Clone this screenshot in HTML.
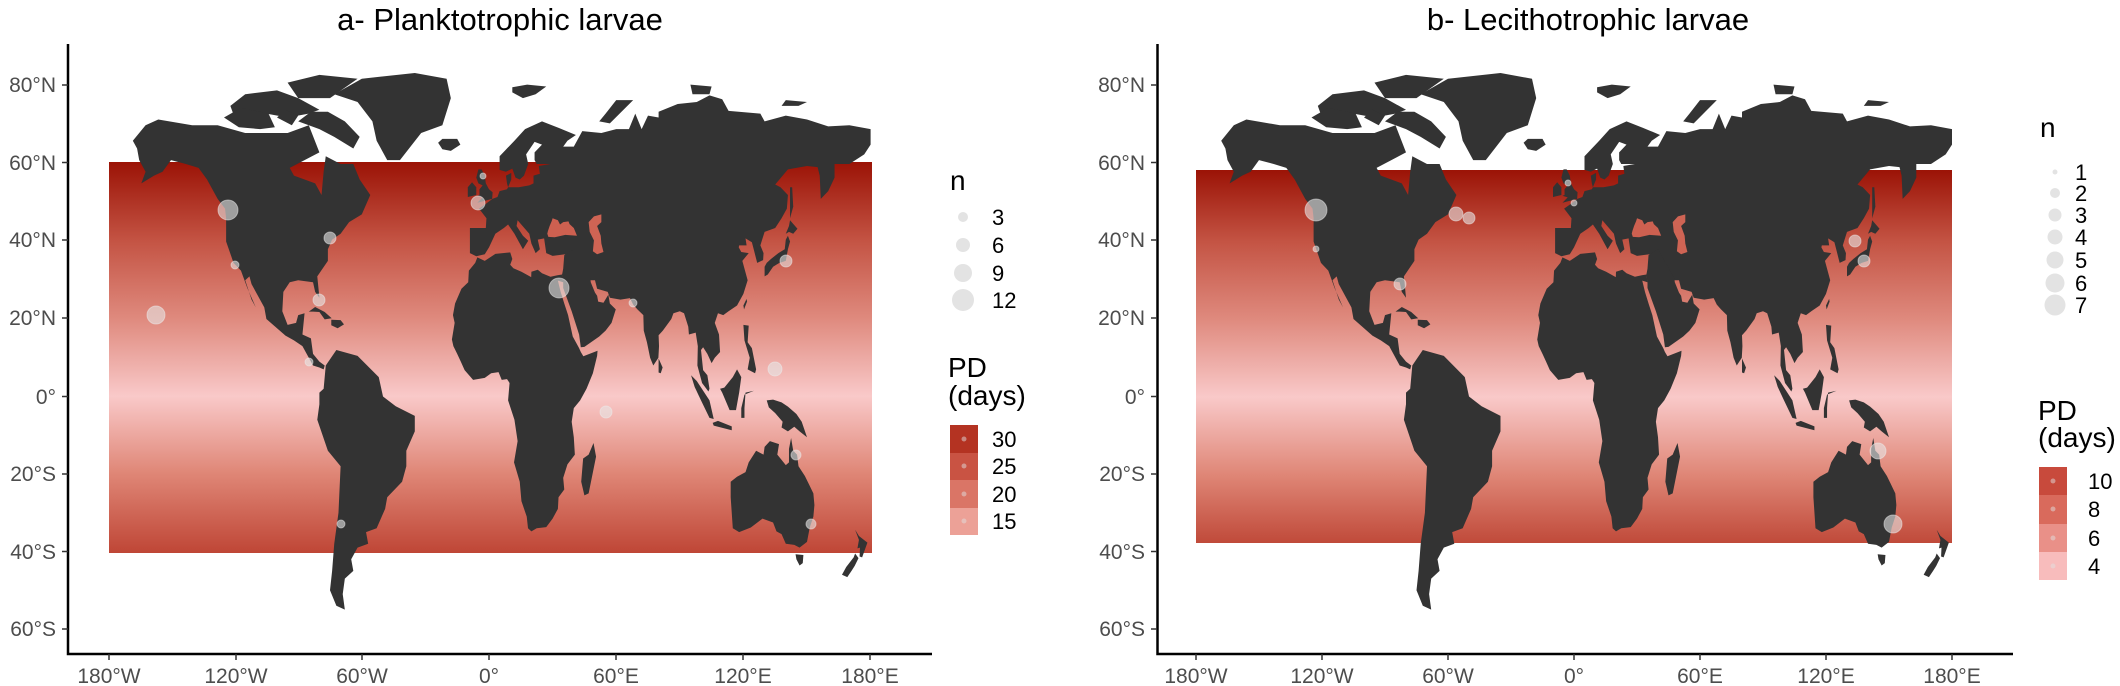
<!DOCTYPE html>
<html><head><meta charset="utf-8"><style>
html,body{margin:0;padding:0;background:#fff}
svg{display:block;font-family:"Liberation Sans",sans-serif}
.t{font-size:21px;fill:#4d4d4d}
.ti{font-size:31px;fill:#000}
.lg{font-size:22px;fill:#000}
.lt{font-size:28px;fill:#000}
</style></head><body>
<svg width="2120" height="686" viewBox="0 0 2120 686" xmlns="http://www.w3.org/2000/svg">
<defs>
<linearGradient id="gA" x1="0" y1="0" x2="0" y2="1">
<stop offset="0" stop-color="#9b1306"/><stop offset=".203" stop-color="#c45444"/><stop offset=".401" stop-color="#df8a7e"/><stop offset=".599" stop-color="#f9c9c9"/><stop offset=".797" stop-color="#df8676"/><stop offset="1" stop-color="#bf4636"/>
</linearGradient>
<linearGradient id="gB" x1="0" y1="0" x2="0" y2="1">
<stop offset="0" stop-color="#9b1306"/><stop offset=".193" stop-color="#c45444"/><stop offset=".401" stop-color="#df8a7e"/><stop offset=".609" stop-color="#f9c9c9"/><stop offset=".818" stop-color="#df8676"/><stop offset="1" stop-color="#c04a3a"/>
</linearGradient>
<g id="w" fill="#333">
<polygon points="-168,66 -162,70 -156,71.5 -140,70 -128,70 -115,68 -95,68 -85,70 -80,63 -94,59 -92,57 -82,55 -79,52 -78,58 -77,62 -70,60 -64,60 -61,56 -56,52 -60,47 -66,45 -70,42 -74,40.5 -76,38 -76,35 -81,31 -80,25.5 -82,27 -83,29.5 -90,30 -94,29.5 -97,27 -97.5,22 -95,18.5 -91,19 -90,21 -87,21.5 -88,16 -84,15 -83,11 -80,9 -77.5,8 -78,7 -80,7.5 -83,8 -86,11 -88,13 -92,14.5 -96,15.7 -105,20 -106,23 -112,29 -113,31 -115,30 -112,25 -110,23 -114,28 -117,32.5 -120.5,34.5 -124,40 -124,46 -124.5,48.5 -128,51 -133,56 -137,59 -143,60 -150,61 -154,58 -158,57 -164,55 -162,58 -165,61 -166,64"/>
<polygon points="-73,78 -60,82 -35,83.5 -20,82 -18,77 -22,70 -32,68 -42,61 -48,61 -53,66 -55,71 -62,76"/>
<polygon points="-122,75 -120,72 -105,73 -95,72 -85,73 -80,74 -90,77 -100,79 -115,78"/>
<polygon points="-125,72 -118,69.5 -108,69 -101,69.5 -104,73 -117,74.5"/>
<polygon points="-100,72 -93,70 -90,72.5 -96,74"/>
<polygon points="-90,77 -75,77 -62,82 -80,83 -95,81"/>
<polygon points="-90,71 -80,69 -73,67 -64,64 -61,67 -68,71 -76,73.5 -84,73.5"/>
<polygon points="-77,8 -72,12 -62,10.5 -52,5 -50,0 -44,-2.5 -35,-5 -35,-9 -39,-14 -39,-18 -41,-22 -48,-26 -49,-29 -53,-34 -58,-35 -57,-38 -62,-39 -65,-42 -64,-45 -68,-47 -69,-51 -68,-55 -72,-54 -75,-50 -74,-45 -73,-38 -71,-30 -70,-18 -76,-14 -81,-6 -80,-2 -80,1 -78,2"/>
<polygon points="-9,43 -9,37 -6,36.2 -2,36.7 0,38.5 3,42 7,43.5 9,44.4 12,42 16,38 18.5,40.2 16,41.5 13,44 13.5,45.5 19,42 20,39.5 22,37 24,38 23,40.5 26,40.8 27,37 30,36.3 36,36.7 35.5,33 34.5,31.5 35,29.5 48,30 50,30 51,27.8 56,27 57,25.5 62,25 66.5,25.4 68,23.7 70,22.5 72.8,21 73,17 74.5,14 76,10 77.5,8 79.9,10 80.2,13 80,15.8 82,17 86,20 87,21.5 90,22 92,21.5 94,18 94.3,16 97.5,16.5 98.5,13 98.3,8 100.5,3.5 103.5,1.3 104,2 103,5.5 101,6.8 100,12 101,12.7 103,11 105,8.6 106.5,10 109,11.5 108.5,16 106.5,19 108,21.5 110.5,21 113,22 117,23.5 120,26.5 122,30 121,32 119.5,35 122.5,37 119,37.3 117.8,38.5 118,39 121.5,39 121,40.8 124,39.8 125,37.7 126.5,34.5 129.3,35.2 129.5,37 128,39 130,42.5 135,43.5 138,46 140.5,48.5 141,52 137.5,54 135,54.7 141,58.6 150,59.5 155,59.2 156,57 156.5,51 160,53 163,56.5 163,60 170,60 177,62.5 180,65 180,69 170,70 160,69.7 150,71.5 140,72.5 130,71 128,73 113,73.7 110,76.7 104,77.7 98,76 89,75.5 80,73.5 80,72 75,72.5 72,69 69,73 66,69 60,69 53,68 44,68.5 42,66.5 40,64.5 35,64.5 37,66 41,67.5 33,69.3 25,71 17,69 12,66 5,62 5,58.5 8,58 11,58.8 12.5,56.5 14.5,56 16.5,57 18.5,60 17.5,62.5 21.5,65.7 25,65 21.5,63 21.5,61 22.5,60 29,60 23.5,59.5 24,57.5 21,57 21,55 19,54.5 14,54 11,54 9,54 8.5,55 8,57 10.5,57.7 10.5,56 9,54 8.5,53.5 5,53 4,51.5 1.6,51 -1.5,49.7 -4.7,48.5 -1.2,46 -1.5,43.5 -9,43.5"/>
<polygon points="-17,21 -16,24 -13,27.8 -9.8,29.5 -9.5,32.5 -6.5,34.5 -5.5,35.9 -2,35 3,36.8 10,37.2 11,35.5 10,34 11.5,33.1 15.3,32.2 19.9,30.8 20,32.2 23,32.7 25,31.8 29,30.9 32.3,31.3 34.5,31.5 35,29.5 32.5,29.9 33.8,27 35.5,24 37.3,21 38.5,18 39.5,15.5 42.5,12.5 43.3,11.5 44.5,10.4 51.2,11.8 51,10.5 49,6 46,2 43,-1 40,-3 39,-6.5 40,-10.5 40.5,-15 37,-17.5 35,-21 35.5,-24 32.8,-26 32.5,-29 30,-31.5 27,-33.7 22.5,-34 20,-34.8 18.4,-34 17.8,-31 15.3,-27 14.5,-22 11.8,-17 13.5,-11.5 12,-6 9,-1 9.7,3.5 8.5,4.5 6,4.3 4.5,6.3 1,6 -2,4.8 -7.5,4.3 -11.5,6.8 -13.3,9 -15,11 -16.8,13 -17.5,14.7 -16.2,19"/>
<polygon points="34.5,31.5 35,29.5 35,28 39,22 42.5,16 43.3,12.7 45,12.8 52,15.5 55,17 57.8,19 59.8,22.5 57,24 56.3,26.3 54,24.2 51.5,24.5 51,26 50,26.8 48,29.5 47.8,30.5 40,38 35.5,36.5 35,33"/>
<polygon points="-5.5,50 1.5,51 1.7,52.7 0,53.5 -1.5,55 -2,57 -3.5,58.6 -5,58.6 -6,56.5 -5,55 -3,54.5 -4.5,53.5 -4.5,52 -5.5,51.8 -3,51.4"/>
<polygon points="-10,51.5 -6,52 -6,54 -8,55.3 -10,54"/>
<polygon points="-24,65.5 -22,66.5 -15,66.5 -13.5,65 -18,63.4 -22,63.8"/>
<polygon points="130,31 131.5,31.5 134,33.5 135.5,34 137,34.5 140,35 141,38 142,40 141,41.5 140,40.5 139.5,38 136.5,37 133,35.5 131,34.5 130,33.5"/>
<polygon points="140,42 141.5,42.5 143.5,42 145.5,43.3 142,45.5 141.5,44"/>
<polygon points="142,46 143.5,49 143,54 142,54 142,50"/>
<polygon points="120.3,22.5 121.7,24.5 121.5,25.2 120,23.5"/>
<polygon points="120,18.5 122.5,18.3 122,14 124,12.5 126,7 125.5,6 122,7 123,10 120.5,14.5"/>
<polygon points="109,2 110,1 113.5,-3.5 116.5,-3.5 118,1 119,5 117,7 115,5 111,2.3"/>
<polygon points="95.3,5.5 98,4 104,-1 106,-5.8 104,-5.5 100,-1 97,2.5"/>
<polygon points="105.5,-6.8 108,-6.3 114.5,-7.7 114.5,-8.7 106,-7.5"/>
<polygon points="119,-5.5 120.5,-5.5 120.5,-3 121,1 125,1.5 120.5,0.5 119,-3"/>
<polygon points="131,-1 134,-0.8 138,-1.5 141,-2.6 145,-4.5 147.5,-6.5 150,-10.5 146.5,-9 144,-7.8 141,-9 138,-8 138.5,-6.5 135,-4.3 132,-2.8"/>
<polygon points="114,-22 114,-26 115,-34 118,-35 123.5,-33.8 129,-31.5 134,-32.5 135.6,-34.8 138,-35.5 140,-38 144,-38.3 146.5,-39 150,-37.5 151.3,-33.8 153,-31 153.5,-28 153,-25 150.8,-22.5 149,-20.5 146,-18 145.3,-15 143.5,-14 142.5,-10.7 141.5,-13.5 141.5,-17 140,-17.7 136,-15 136.8,-12.3 132.5,-11.5 130,-13 129.5,-15 126,-14 122.5,-17 121,-19.5 117,-20.7"/>
<polygon points="144.6,-40.7 148.3,-40.9 148,-43 146.5,-43.6 145,-42"/>
<polygon points="172.7,-34.4 174.5,-36 178.5,-37.7 176,-41.5 174.8,-41.3 175,-39 173.8,-39.2 174.5,-37"/>
<polygon points="172.7,-40.5 174.3,-41.7 172.5,-43.7 171,-45 169,-46.6 166.5,-46 168.5,-44 172,-41.5"/>
<polygon points="49.3,-12 50.5,-15.5 47,-25 45,-25.5 43.5,-22 44.4,-16 47,-15"/>
<polygon points="80,9.8 81.9,7.5 81,6 80,6.2"/>
<polygon points="-85,21.9 -82,23.1 -77.5,21.8 -74.2,20.2 -77.5,19.9 -80,21.8 -83,21.9"/>
<polygon points="-74.4,19.8 -70,19.7 -68.4,18.6 -71.4,17.6 -74.4,18.4"/>
<polygon points="52,71 57,70.5 68,76.5 60,76.5 55,73"/>
<polygon points="11,78.5 16,77 22,78 27,80 18,80.5 11,79.8"/>
<polygon points="96,78 104,78 105,80 95,80.5"/>
<polygon points="138,75 146,75 150,76 140,76.5"/>
<polygon fill="#cd6050" points="27.5,42 28,41.2 31,41.1 36,41.7 41.5,41.5 40,43.5 38,44.5 37.5,45.2 35,45 33.5,44.4 32.5,45.5 30,46 29.6,45.3 28.6,44 27.8,42.7"/>
<polygon fill="#cf6454" points="47,45 49.5,46.5 53,47 53,45 51,44 52.7,41.5 53,39.5 54,37.3 51,36.7 49,37.5 49.5,40.3 47.5,42.5"/>
</g>
</defs>

<text class="ti" x="500" y="30" text-anchor="middle">a- Planktotrophic larvae</text>
<rect x="109" y="162" width="763" height="391" fill="url(#gA)"/>
<use href="#w" transform="translate(489,396.5) scale(2.12,-3.875)"/>
<g fill="#e6e6e6" fill-opacity=".6" stroke="#eee" stroke-opacity=".5">
<circle cx="228" cy="210" r="10"/><circle cx="156" cy="315" r="9"/><circle cx="330" cy="238" r="6"/><circle cx="559" cy="288" r="10"/><circle cx="478" cy="203" r="7"/><circle cx="606" cy="412" r="6"/><circle cx="786" cy="261" r="6"/><circle cx="775" cy="369" r="7"/><circle cx="235" cy="265" r="4"/><circle cx="319" cy="300" r="6"/><circle cx="309" cy="362" r="4"/><circle cx="341" cy="524" r="4"/><circle cx="811" cy="524" r="5"/><circle cx="796" cy="455" r="5"/><circle cx="483" cy="176" r="3"/><circle cx="633" cy="303" r="4"/>
</g>
<g stroke="#000" stroke-width="2.5" fill="none">
<path d="M68,44V654H932"/>
</g>
<g stroke="#333" stroke-width="1.5">
<path d="M62,85H68M62,162.5H68M62,240H68M62,318H68M62,396.5H68M62,474H68M62,551.5H68M62,629H68"/>
<path d="M109,654V660M236,654V660M362,654V660M489,654V660M616,654V660M743,654V660M870,654V660"/>
</g>
<g class="t" text-anchor="end">
<text x="56" y="92">80°N</text><text x="56" y="170">60°N</text><text x="56" y="247">40°N</text><text x="56" y="325">20°N</text><text x="56" y="404">0°</text><text x="56" y="481">20°S</text><text x="56" y="559">40°S</text><text x="56" y="636">60°S</text>
</g>
<g class="t" text-anchor="middle">
<text x="109" y="683">180°W</text><text x="236" y="683">120°W</text><text x="362" y="683">60°W</text><text x="489" y="683">0°</text><text x="616" y="683">60°E</text><text x="743" y="683">120°E</text><text x="870" y="683">180°E</text>
</g>
<text class="lt" x="950" y="190">n</text>
<g fill="#e3e3e3"><circle cx="963" cy="217" r="5"/><circle cx="963" cy="245" r="7"/><circle cx="963" cy="273" r="9"/><circle cx="963" cy="300" r="11"/></g>
<g class="lg"><text x="992" y="225">3</text><text x="992" y="253">6</text><text x="992" y="281">9</text><text x="992" y="308">12</text></g>
<text class="lt" x="948" y="377">PD</text><text class="lt" x="948" y="405">(days)</text>
<rect x="950" y="425" width="28" height="28" fill="#b43322"/><rect x="950" y="453" width="28" height="27" fill="#c95343"/><rect x="950" y="480" width="28" height="28" fill="#da7566"/><rect x="950" y="508" width="28" height="27" fill="#eca197"/>
<g fill="#e0e0e0" fill-opacity=".5"><circle cx="964" cy="439" r="2.5"/><circle cx="964" cy="466" r="2.5"/><circle cx="964" cy="494" r="2.5"/><circle cx="964" cy="521" r="2.5"/></g>
<g class="lg"><text x="992" y="447">30</text><text x="992" y="474">25</text><text x="992" y="502">20</text><text x="992" y="529">15</text></g>

<text class="ti" x="1588" y="30" text-anchor="middle">b- Lecithotrophic larvae</text>
<rect x="1196" y="170" width="756" height="373" fill="url(#gB)"/>
<use href="#w" transform="translate(1574,396.5) scale(2.10,-3.875)"/>
<g fill="#e6e6e6" fill-opacity=".6" stroke="#eee" stroke-opacity=".5">
<circle cx="1316" cy="210" r="11"/><circle cx="1456" cy="214" r="7"/><circle cx="1469" cy="218" r="6"/><circle cx="1400" cy="284" r="6"/><circle cx="1855" cy="241" r="6"/><circle cx="1864" cy="261" r="6"/><circle cx="1878" cy="451" r="8"/><circle cx="1893" cy="524" r="9"/><circle cx="1568" cy="183" r="3"/><circle cx="1574" cy="203" r="3"/><circle cx="1316" cy="249" r="3"/>
</g>
<g stroke="#000" stroke-width="2.5" fill="none">
<path d="M1157.5,44V654H2013"/>
</g>
<g stroke="#333" stroke-width="1.5">
<path d="M1151,85H1157M1151,162.5H1157M1151,240H1157M1151,318H1157M1151,396.5H1157M1151,474H1157M1151,551.5H1157M1151,629H1157"/>
<path d="M1196,654V660M1322,654V660M1448,654V660M1574,654V660M1700,654V660M1826,654V660M1952,654V660"/>
</g>
<g class="t" text-anchor="end">
<text x="1145" y="92">80°N</text><text x="1145" y="170">60°N</text><text x="1145" y="247">40°N</text><text x="1145" y="325">20°N</text><text x="1145" y="404">0°</text><text x="1145" y="481">20°S</text><text x="1145" y="559">40°S</text><text x="1145" y="636">60°S</text>
</g>
<g class="t" text-anchor="middle">
<text x="1196" y="683">180°W</text><text x="1322" y="683">120°W</text><text x="1448" y="683">60°W</text><text x="1574" y="683">0°</text><text x="1700" y="683">60°E</text><text x="1826" y="683">120°E</text><text x="1952" y="683">180°E</text>
</g>
<text class="lt" x="2040" y="137">n</text>
<g fill="#e3e3e3"><circle cx="2055" cy="172" r="2.5"/><circle cx="2055" cy="193" r="5"/><circle cx="2055" cy="215" r="6.5"/><circle cx="2055" cy="237" r="7.5"/><circle cx="2055" cy="260" r="8.5"/><circle cx="2055" cy="283" r="9.5"/><circle cx="2055" cy="305" r="10.5"/></g>
<g class="lg"><text x="2075" y="180">1</text><text x="2075" y="201">2</text><text x="2075" y="223">3</text><text x="2075" y="245">4</text><text x="2075" y="268">5</text><text x="2075" y="291">6</text><text x="2075" y="313">7</text></g>
<text class="lt" x="2038" y="420">PD</text><text class="lt" x="2038" y="447">(days)</text>
<rect x="2039" y="467" width="28" height="28" fill="#c84a3c"/><rect x="2039" y="495" width="28" height="29" fill="#d96a5c"/><rect x="2039" y="524" width="28" height="28" fill="#e99088"/><rect x="2039" y="552" width="28" height="28" fill="#f8bcbc"/>
<g fill="#e0e0e0" fill-opacity=".5"><circle cx="2053" cy="481" r="2.5"/><circle cx="2053" cy="509" r="2.5"/><circle cx="2053" cy="538" r="2.5"/><circle cx="2053" cy="566" r="2.5"/></g>
<g class="lg"><text x="2088" y="489">10</text><text x="2088" y="517">8</text><text x="2088" y="546">6</text><text x="2088" y="574">4</text></g>
</svg>
</body></html>
